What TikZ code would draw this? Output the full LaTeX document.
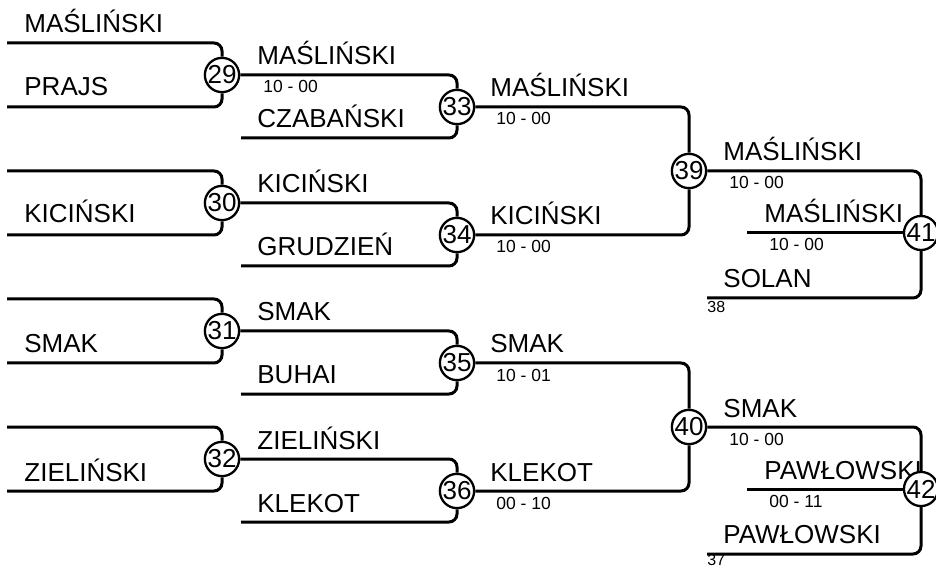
\documentclass[tikz,border=0pt]{standalone}
\usepackage{fontspec}
\setmainfont{Liberation Sans}
\begin{document}
\begin{tikzpicture}[
		x=0.5pt, y=-0.5pt,
		link/.style={ line width=1.5pt, rounded corners=4pt, },
		match/.style={ draw, circle, fill=white, line width=1.15pt, inner sep=0pt, minimum size=17pt, font=\fontsize{13}{13}\selectfont, },
		player/.style={ anchor=base west, inner sep=0pt, font=\fontsize{13}{13}\selectfont, },
		score/.style={ anchor=base west, inner sep=0pt, font=\fontsize{8.75}{9}\selectfont, },
		seed/.style={ anchor=base west, inner sep=0pt, font=\fontsize{8}{8}\selectfont, },
		]
		\useasboundingbox (0,0) rectangle (936,566);
		
		\node[player] (n29t) at (24,33) {MAŚLIŃSKI};
		\node[player] (n29b) at (24,96) {PRAJS};
		\node[player] (n30b) at (24,223) {KICIŃSKI};
		\node[player] (n31b) at (24,353) {SMAK};
		\node[player] (n32b) at (24,481) {ZIELIŃSKI};
		
		\node[player] (n33t) at (257,65) {MAŚLIŃSKI};
		\node[player] (n33b) at (257,128) {CZABAŃSKI};
		\node[player] (n34t) at (257,193) {KICIŃSKI};
		\node[player] (n34b) at (257,256) {GRUDZIEŃ};
		\node[player] (n35t) at (257,321) {SMAK};
		\node[player] (n35b) at (257,384) {BUHAI};
		\node[player] (n36t) at (257,449) {ZIELIŃSKI};
		\node[player] (n36b) at (257,512) {KLEKOT};
		\node[score] (s29) at (263,93) {10 - 00};
		
		\node[player] (n39t) at (490,97) {MAŚLIŃSKI};
		\node[player] (n39b) at (490,225) {KICIŃSKI};
		\node[player] (n40t) at (490,353) {SMAK};
		\node[player] (n40b) at (490,481) {KLEKOT};
		\node[score] (s33) at (496,125) {10 - 00};
		\node[score] (s34) at (496,253) {10 - 00};
		\node[score] (s35) at (496,381) {10 - 01};
		\node[score] (s36) at (496,509) {00 - 10};
		
		\node[player] (n41t) at (723,161) {MAŚLIŃSKI};
		\node[player] (n41c) at (764,223) {MAŚLIŃSKI};
		\node[player] (n41b) at (723,288) {SOLAN};
		\node[player] (n42t) at (723,417) {SMAK};
		\node[player] (n42c) at (764,479) {PAWŁOWSKI};
		\node[player] (n42b) at (723,543) {PAWŁOWSKI};
		\node[score] (s39) at (729,189) {10 - 00};
		\node[score] (s41) at (769,251) {10 - 00};
		\node[score] (s40) at (729,445) {10 - 00};
		\node[score] (s42) at (769,507) {00 - 11};
		\node[seed] (d38) at (707,313) {38};
		\node[seed] (d37) at (707,565) {37};
		
		% first round
		\foreach \m/\y in {29/43, 30/171, 31/299, 32/427}{
			\node[match] (m\m) at (222,\y+32) {\m};
			\coordinate (t\m) at (7,\y);
			\coordinate (b\m) at (7,\y+64);
			\draw[link] (t\m) -| (m\m);
			\draw[link] (b\m) -| (m\m);
		}
		
		% second round
		\foreach \m/\a/\y in {33/29/75, 34/30/203, 35/31/331, 36/32/459}{
			\node[match] (m\m) at (457,\y+32) {\m};
			\coordinate (b\m) at (241,\y+63);
			\draw[link] (m\a) -| (m\m);
			\draw[link] (b\m) -| (m\m);
		}
		
		% semi finals
		\foreach \m/\a/\b/\y in {39/33/34/107, 40/35/36/363}{
			\node[match] (m\m) at (689,\y+64) {\m};
			\draw[link] (m\a) -| (m\m);
			\draw[link] (m\b) -| (m\m);
		}
		
		% last round
		\foreach \m/\a/\y in {41/39/171, 42/40/427}{
			\node[match] (m\m) at (921,\y+62) {\m};
			\coordinate (c\m) at (747,\y+62);
			\coordinate (b\m) at (707,\y+127);
			\draw[link] (m\a) -| (m\m);
			\draw[link] (c\m) -- (m\m);
			\draw[link] (b\m) -| (m\m);
		}
	\end{tikzpicture}
\end{document}
